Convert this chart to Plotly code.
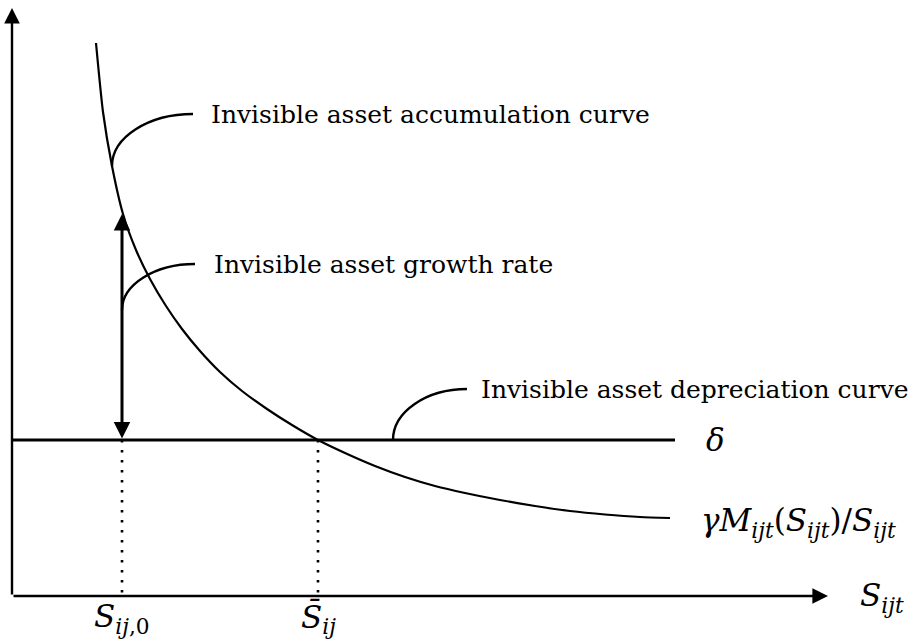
import plotly.graph_objects as go

# Stock of the invisible asset (S_ijt) and the rate gamma*M(S)/S
curve_s = [0.84, 0.91, 1.00, 1.11, 1.24, 1.38, 1.54, 1.70, 1.88, 2.08, 2.30, 2.55, 2.80,
           3.06, 3.33, 3.63, 3.93, 4.23, 4.53, 4.88, 5.23, 5.58, 5.93, 6.28, 6.58]
curve_rate = [5.53, 4.84, 4.30, 3.82, 3.46, 3.17, 2.90, 2.67, 2.45, 2.24, 2.05, 1.87, 1.71,
              1.56, 1.43, 1.30, 1.19, 1.10, 1.03, 0.96, 0.90, 0.85, 0.815, 0.79, 0.78]

delta = 1.56          # depreciation rate
delta_end = 6.63      # right end of the depreciation line
s_initial = 1.10      # S_ij,0
s_steady = 3.06       # steady-state stock S̄_ij
rate_initial = 3.82   # curve value at S_ij,0
x_axis_end = 8.16
y_axis_end = 5.88

# Callouts: (anchor s, anchor rate, elbow s, elbow rate, text start s, label)
callouts = [
    (1.00, 4.30, 1.81, 4.82, 1.97, "Invisible asset accumulation curve"),
    (1.10, 2.86, 1.83, 3.32, 2.00, "Invisible asset growth rate"),
    (3.81, 1.56, 4.55, 2.07, 4.67, "Invisible asset depreciation curve"),
]

SERIF = "DejaVu Serif"
INK = "black"

fig = go.Figure()

# Accumulation curve
fig.add_trace(go.Scatter(x=curve_s, y=curve_rate, mode="lines",
                         line=dict(color=INK, width=2.2, shape="spline", smoothing=0.6),
                         hoverinfo="skip", showlegend=False))

# Depreciation line
fig.add_trace(go.Scatter(x=[0, delta_end], y=[delta, delta], mode="lines",
                         line=dict(color=INK, width=3),
                         hoverinfo="skip", showlegend=False))

# Dotted drop lines to the stock axis
for s in (s_initial, s_steady):
    fig.add_trace(go.Scatter(x=[s, s], y=[delta, 0], mode="lines",
                             line=dict(color=INK, width=2.6, dash="2.6px,7.4px"),
                             hoverinfo="skip", showlegend=False))

annotations = []

# Axes with arrow heads
annotations.append(dict(x=x_axis_end, y=0, ax=0, ay=0, xref="x", yref="y",
                        axref="x", ayref="y", text="", showarrow=True,
                        arrowhead=2, arrowsize=1.3, arrowwidth=2.4, arrowcolor=INK))
annotations.append(dict(x=0, y=y_axis_end, ax=0, ay=0, xref="x", yref="y",
                        axref="x", ayref="y", text="", showarrow=True,
                        arrowhead=2, arrowsize=1.3, arrowwidth=2.4, arrowcolor=INK))

# Growth rate: double arrow between delta and the curve at S_ij,0
annotations.append(dict(x=s_initial, y=rate_initial, ax=s_initial, ay=delta,
                        xref="x", yref="y", axref="x", ayref="y", text="",
                        showarrow=True, arrowhead=2, startarrowhead=2,
                        arrowside="end+start", arrowsize=1.1, startarrowsize=1.1,
                        arrowwidth=3, arrowcolor=INK))

shapes = []
k = 0.552
for ax_, ay_, bx, by, tx, label in callouts:
    c1 = (ax_, ay_ + k * (by - ay_))
    c2 = (bx - k * (bx - ax_), by)
    path = (f"M {ax_},{ay_} C {c1[0]},{c1[1]} {c2[0]},{c2[1]} {bx},{by}")
    shapes.append(dict(type="path", path=path, xref="x", yref="y",
                       line=dict(color=INK, width=2.4)))
    annotations.append(dict(x=tx, y=by, xref="x", yref="y", text=label,
                            showarrow=False, xanchor="left", yanchor="middle",
                            font=dict(family=SERIF, size=25, color=INK)))

math_font = dict(family=SERIF, size=31, color=INK)


def sub(t):
    return f"<sub><i>{t}</i></sub>"


annotations += [
    dict(x=8.46, y=-0.01, text="<i>S</i>" + sub("ijt"), xanchor="left",
         yanchor="middle", showarrow=False, font=math_font),
    dict(x=6.92, y=delta, text="<i>δ</i>", xanchor="left", yanchor="middle",
         showarrow=False, font=math_font),
    dict(x=6.87, y=0.74,
         text="<i>γM</i>" + sub("ijt") + "(<i>S</i>" + sub("ijt") + ")/<i>S</i>" + sub("ijt"),
         xanchor="left", yanchor="middle", showarrow=False, font=math_font),
    dict(x=s_initial, y=-0.22, text="<i>S</i><sub><i>ij</i>,0</sub>", xanchor="center",
         yanchor="middle", showarrow=False, font=math_font),
    dict(x=s_steady, y=-0.22, text="<i>S\u0304</i>" + sub("ij"), xanchor="center",
         yanchor="middle", showarrow=False, font=math_font),
]

fig.update_layout(
    width=910, height=640,
    margin=dict(l=0, r=0, t=0, b=0),
    paper_bgcolor="white", plot_bgcolor="white",
    xaxis=dict(range=[-0.12, 8.98], visible=False, fixedrange=True),
    yaxis=dict(range=[-0.44, 5.96], visible=False, fixedrange=True),
    shapes=shapes, annotations=annotations,
    showlegend=False,
)

fig.write_html("out.html")
